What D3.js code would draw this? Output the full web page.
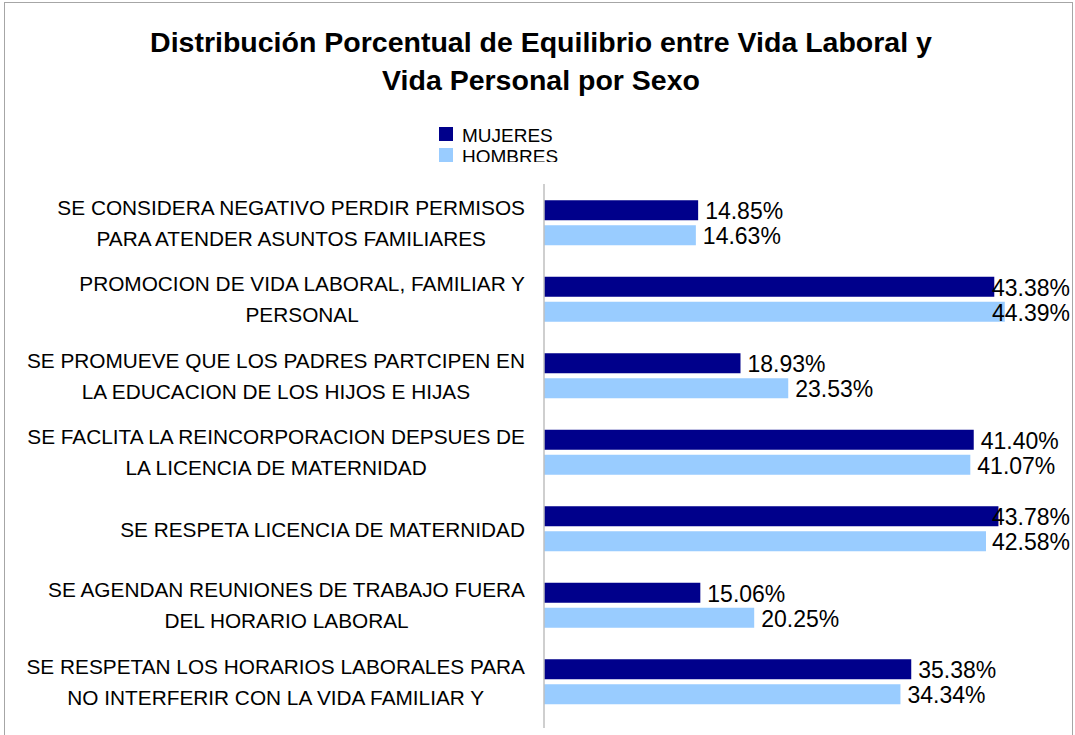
<!DOCTYPE html>
<html>
<head>
<meta charset="utf-8">
<script src="https://cdn.jsdelivr.net/npm/d3@7"></script>
<style>
	body { margin: 0; background: #fff; }
	svg { display: block; }
</style>
</head>
<body>
<div id="chart"></div>
<script>
// Chart data
const titleLines = ["Distribución Porcentual de Equilibrio entre Vida Laboral y", "Vida Personal por Sexo"];
const categories = [
	["SE CONSIDERA NEGATIVO PERDIR PERMISOS", "PARA ATENDER ASUNTOS FAMILIARES"],
	["PROMOCION DE VIDA LABORAL, FAMILIAR Y", "PERSONAL"],
	["SE PROMUEVE QUE LOS PADRES PARTCIPEN EN", "LA EDUCACION DE LOS HIJOS E HIJAS"],
	["SE FACLITA LA REINCORPORACION DEPSUES DE", "LA LICENCIA DE MATERNIDAD"],
	["SE RESPETA LICENCIA DE MATERNIDAD"],
	["SE AGENDAN REUNIONES DE TRABAJO FUERA", "DEL HORARIO LABORAL"],
	["SE RESPETAN LOS HORARIOS LABORALES PARA", "NO INTERFERIR CON LA VIDA FAMILIAR Y"]
];
const mujeres = [14.85, 43.38, 18.93, 41.40, 43.78, 15.06, 35.38];
const hombres = [14.63, 44.39, 23.53, 41.07, 42.58, 20.25, 34.34];
const seriesNames = ["MUJERES", "HOMBRES"];
const seriesColors = ["#00008B", "#99CCFF"];

const width = 1075;
const height = 735;
const axisX = 544;
const labelRight = 1070;
const catRight = 525;

const svg = d3.select("#chart").append("svg")
	.attr("width", width)
	.attr("height", height)
	.style("font-family", "'Liberation Sans', Arial, sans-serif");

// outer chart border
svg.append("rect")
	.attr("x", 4.5).attr("y", 2.5)
	.attr("width", 1068).attr("height", height + 10)
	.attr("fill", "none")
	.attr("stroke", "#a6a6a6");

// Title
svg.append("g").selectAll("text")
	.data(titleLines)
	.join("text")
	.attr("x", 541)
	.attr("y", (d, i) => 52 + i * 37.5)
	.attr("text-anchor", "middle")
	.style("font-size", "28.5px")
	.style("font-weight", "bold")
	.text(d => d);

// Legend (clipped at the bottom like the original)
svg.append("defs").append("clipPath")
	.attr("id", "legend-clip")
	.append("rect")
	.attr("x", 430).attr("y", 118).attr("width", 150).attr("height", 44);

const legend = svg.append("g").attr("clip-path", "url(#legend-clip)");
const legendItems = legend.selectAll("g")
	.data(seriesNames)
	.join("g")
	.attr("transform", (d, i) => `translate(439, ${127 + i * 21})`);
legendItems.append("rect")
	.attr("width", 14).attr("height", 14)
	.attr("fill", (d, i) => seriesColors[i]);
legendItems.append("text")
	.attr("x", 23).attr("y", 15)
	.style("font-size", "19px")
	.text(d => d);

// Scales
const x = d3.scaleLinear().domain([0, 50]).range([axisX, axisX + 50 * 10.38]);
const y = d3.scaleBand().domain(d3.range(categories.length)).range([184.5, 720]);

const barH = 20;
const barGap = 5;

// Category labels: widest line right-aligned to the axis, lines centred on the block
const catText = svg.append("g").selectAll("text")
	.data(categories)
	.join("text")
	.attr("text-anchor", "middle")
	.style("font-size", "20.8px")
	.attr("fill", "#000");
catText.selectAll("tspan")
	.data((d, i) => d.map((line, j) => ({ line, j, n: d.length, i })))
	.join("tspan")
	.attr("y", d => {
		const c = y(d.i) + y.bandwidth() / 2;
		return d.n === 1 ? c + 8.5 : c - 8 + d.j * 31;
	})
	.text(d => d.line);
catText.each(function() {
	const spans = d3.select(this).selectAll("tspan");
	let maxW = 0;
	spans.each(function() { maxW = Math.max(maxW, this.getComputedTextLength()); });
	spans.attr("x", catRight - maxW / 2);
});

// Bars
const series = [mujeres, hombres];
series.forEach((vals, s) => {
	const g = svg.append("g");
	g.selectAll("rect")
		.data(vals)
		.join("rect")
		.attr("x", axisX)
		.attr("y", (d, i) => y(i) + y.bandwidth() / 2 - barH - barGap / 2 + s * (barH + barGap))
		.attr("width", d => x(d) - axisX)
		.attr("height", barH)
		.attr("fill", seriesColors[s]);

	g.selectAll("text")
		.data(vals)
		.join("text")
		.attr("y", (d, i) => y(i) + y.bandwidth() / 2 - barH - barGap / 2 + s * (barH + barGap) + barH / 2 + 9)
		.style("font-size", "23px")
		.text(d => d3.format(".2f")(d) + "%")
		.attr("x", function(d) {
			const w = this.getComputedTextLength();
			return Math.min(x(d) + 7, labelRight - w);
		});
});

// vertical category axis line
svg.append("line")
	.attr("x1", axisX).attr("x2", axisX)
	.attr("y1", 184).attr("y2", 728)
	.attr("stroke", "#bfbfbf")
	.attr("stroke-width", 1.5);
</script>
</body>
</html>
